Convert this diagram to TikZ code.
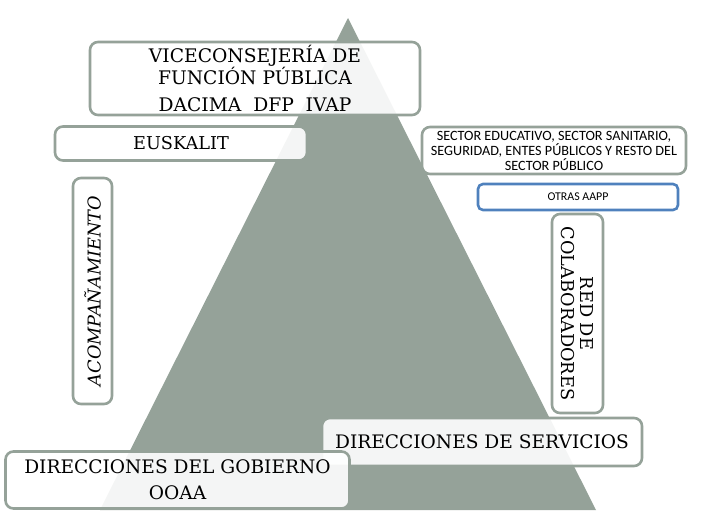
\documentclass[tikz,border=0pt]{standalone}
\usepackage{fontspec}
\setmainfont{DejaVu Serif}
\newfontfamily\sectorfont{Carlito}
\definecolor{pyrgray}{RGB}{149,162,153}
\definecolor{aappblue}{RGB}{79,129,189}
\tikzset{
  box/.style={draw=pyrgray, line width=2.6pt, rounded corners=8pt, fill=white,
    fill opacity=0.9, text opacity=1, align=center, inner sep=0pt},
  big/.style={font=\fontsize{17.7}{19}\selectfont},
}

\begin{document}
\begin{tikzpicture}[x=1pt,y=-1pt]
  \useasboundingbox (0,0) rectangle (702,528);
  \fill [pyrgray] (348,18) -- (596,510) -- (100,510) -- cycle;
  % top of the pyramid
  \node (vice) [box, font=\fontsize{18.7}{20}\selectfont, minimum width=330pt, minimum height=73pt] at (255,78.5)
    {VICECONSEJERÍA DE\\FUNCIÓN PÚBLICA\\[7pt]DACIMA\ \ DFP\ \ IVAP};
  \node (euskalit) [box, big, minimum width=252pt, minimum height=34pt] at (181,143.5) {EUSKALIT};
  \node (acomp) [box, big, rotate=90, minimum width=226pt, minimum height=39pt] at (92.5,291)
    {\itshape ACOMPAÑAMIENTO};
  % right side
  \node (sector) [box, minimum width=264pt, minimum height=47pt, font=\sectorfont\fontsize{14.2}{15}\selectfont] at (554,150.5)
    {SECTOR EDUCATIVO, SECTOR SANITARIO,\\SEGURIDAD, ENTES PÚBLICOS Y RESTO DEL\\SECTOR PÚBLICO};
  \node (otras) [box, draw=aappblue, rounded corners=5pt, minimum width=200pt, minimum height=26pt, font=\sectorfont\fontsize{11.9}{13}\selectfont] at (578,197) {OTRAS AAPP};
  \node (red) [box, big, rotate=-90, minimum width=199pt, minimum height=51pt] at (577.5,313.5)
    {RED DE\\COLABORADORES};
  % base of the pyramid
  \node (servicios) [box, font=\fontsize{18.6}{20}\selectfont, minimum width=320pt, minimum height=48pt] at (482,442) {DIRECCIONES DE SERVICIOS};
  \node (gobierno) [box, font=\fontsize{18.6}{26}\selectfont, minimum width=344pt, minimum height=57pt] at (177.5,480)
    {DIRECCIONES DEL GOBIERNO\\OOAA};
\end{tikzpicture}
\end{document}
